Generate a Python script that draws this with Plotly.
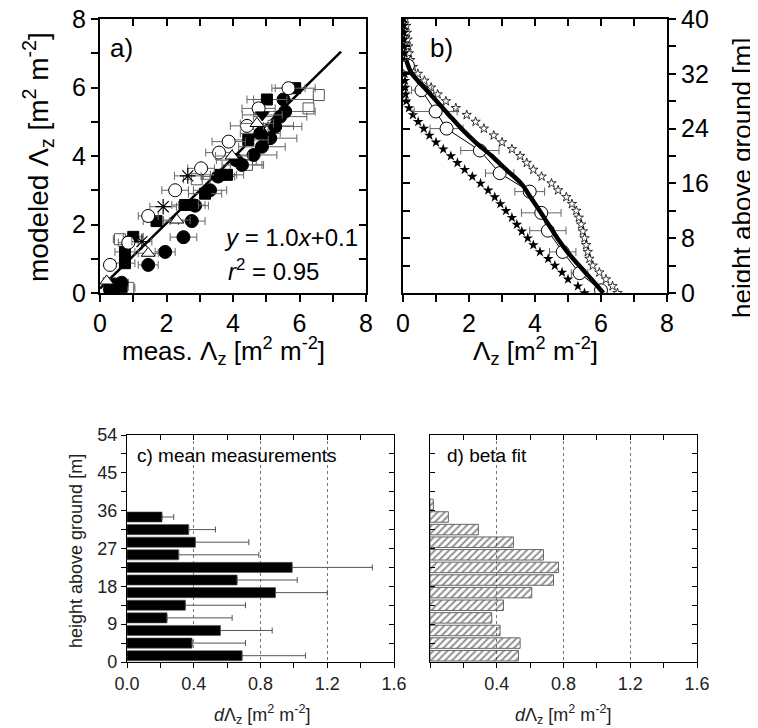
import plotly.graph_objects as go

# page is rendered with an 8px body margin; figure coordinates are page px - 8
OFF = 8
W, H = 750, 720
FONT = "Liberation Sans, Arial, sans-serif"

# ---------------- Panel a data (meas vs modeled) ----------------
fc_x = [0.3, 0.45, 0.65, 1.45, 1.96, 2.51, 2.76, 2.86, 3.31, 3.55, 4.1, 4.27, 4.62, 4.87, 5.12, 4.82, 5.27, 5.42, 5.57, 5.52]
fc_y = [0.1, 0.25, 0.3, 0.82, 1.2, 1.63, 2.1, 2.55, 3.0, 3.4, 3.88, 3.74, 4.03, 4.27, 4.52, 4.66, 4.86, 5.15, 5.3, 5.65]
fc_err = [0.15, 0.2, 0.2, 0.3, 0.3, 0.4, 0.4, 0.4, 0.5, 0.5, 0.6, 0.6, 0.7, 0.7, 0.8, 0.6, 0.8, 0.8, 0.9, 0.9]

oc_x = [0.3, 0.85, 1.45, 2.26, 3.04, 3.58, 3.87, 4.42, 4.77, 5.67]
oc_y = [0.82, 1.47, 2.25, 3.0, 3.64, 4.1, 4.42, 4.88, 5.39, 5.98]
oc_err = [0.1, 0.3, 0.3, 0.4, 0.4, 0.4, 0.5, 0.5, 0.5, 0.5]

fs_x = [0.3, 0.45, 0.65, 0.75, 0.75, 1.0, 1.7, 2.56, 2.76, 3.16, 3.61, 3.82, 4.46, 5.02, 5.87]
fs_y = [0.1, 0.18, 0.18, 0.87, 1.2, 1.64, 2.1, 2.57, 2.57, 2.9, 3.45, 3.45, 4.47, 5.65, 5.98]
fs_err = [0.1, 0.2, 0.2, 0.3, 0.3, 0.3, 0.4, 0.4, 0.4, 0.5, 0.5, 0.5, 0.6, 0.6, 0.6]

os_x = [0.6, 0.85, 2.91, 4.42, 5.22, 6.27, 6.58]
os_y = [1.57, 0.15, 3.32, 3.74, 4.88, 5.39, 5.78]
os_err = [0.2, 0.2, 0.4, 0.5, 0.6, 0.0, 0.0]

ot_x = [0.2, 1.45, 2.31, 3.97, 4.72]
ot_y = [0.35, 1.16, 2.13, 4.0, 4.95]
ot_err = [0.1, 0.3, 0.4, 0.5, 0.5]

ast_x = [1.26, 1.9, 2.64]
ast_y = [1.5, 2.52, 3.42]
ast_err = [0.3, 0.4, 0.4]

fdt_x = [4.88]
fdt_y = [5.2]
fdt_err = [0.6]

fit_a_x = [0.0, 7.25]
fit_a_y = [0.13, 7.05]

# ---------------- Panel b data (profiles) ----------------
star_h = [40, 39, 38, 37, 36, 35, 34, 33, 32, 31, 30, 29, 28, 27, 26, 25, 24, 23, 22, 21,
          20, 19, 18, 17, 16, 15, 14, 13, 12, 11, 10, 9, 8, 7, 6, 5, 4, 3, 2, 1, 0]
open_star_x = [0.08, 0.1, 0.12, 0.14, 0.16, 0.18, 0.22, 0.3, 0.45, 0.65, 0.85, 1.05, 1.3, 1.6, 1.93,
               2.2, 2.45, 2.75, 3.0, 3.3, 3.55, 3.75, 3.95, 4.2, 4.5, 4.7, 4.95, 5.12, 5.25, 5.33,
               5.4, 5.45, 5.5, 5.55, 5.6, 5.65, 5.75, 5.95, 6.15, 6.35, 6.5]
filled_star_x = [0.02, 0.02, 0.03, 0.03, 0.03, 0.04, 0.04, 0.05, 0.05, 0.06, 0.07, 0.08, 0.1, 0.18,
                 0.3, 0.46, 0.63, 0.8, 1.0, 1.22, 1.45, 1.65, 1.87, 2.1, 2.35, 2.58, 2.78, 2.95,
                 3.12, 3.3, 3.45, 3.6, 3.78, 3.95, 4.15, 4.4, 4.6, 4.82, 5.0, 5.3, 5.5]

fit_b_h = [34, 33, 32, 30, 28, 26, 24, 22, 20, 18, 16, 14, 12, 10, 8, 6, 4, 2, 0]
fit_b_x = [0.1, 0.17, 0.27, 0.64, 1.02, 1.39, 1.77, 2.2, 2.69, 3.13, 3.58, 3.86, 4.14,
           4.41, 4.68, 4.98, 5.34, 5.71, 6.07]

meas_h = [33.2, 29.6, 26.5, 24.0, 20.8, 17.5, 14.8, 11.7, 9.1, 6.0, 2.9, 0.4]
meas_x = [0.15, 0.56, 0.99, 1.32, 2.33, 2.93, 3.84, 4.19, 4.39, 4.84, 5.35, 6.0]
meas_err = [0.1, 0.3, 0.65, 0.5, 0.58, 0.43, 0.45, 0.6, 0.55, 0.4, 0.25, 0.15]

# ---------------- Panel c data (mean measurements) ----------------
c_h = [1.5, 4.5, 7.5, 10.5, 13.5, 16.5, 19.5, 22.5, 25.5, 28.5, 31.5, 34.5]
c_val = [0.69, 0.39, 0.56, 0.24, 0.35, 0.89, 0.66, 0.99, 0.31, 0.41, 0.37, 0.21]
c_err = [0.38, 0.32, 0.31, 0.39, 0.36, 0.31, 0.36, 0.48, 0.48, 0.32, 0.16, 0.07]

# ---------------- Panel d data (beta fit) ----------------
d_h = [1.5, 4.5, 7.5, 10.5, 13.5, 16.5, 19.5, 22.5, 25.5, 28.5, 31.5, 34.5, 37.5]
d_val = [0.53, 0.54, 0.42, 0.37, 0.44, 0.61, 0.74, 0.77, 0.68, 0.50, 0.29, 0.11, 0.02]

# ---------------- layout helpers (args are page pixels) ----------------
def dx(a, b):
    return [(a - OFF) / W, (b - OFF) / W]

def dy(top, bottom):
    return [1 - (bottom - OFF) / H, 1 - (top - OFF) / H]

A_X, A_Y = dx(100, 366), dy(19, 293)
B_X, B_Y = dx(403, 667), dy(19, 293)
C_X, C_Y = dx(127, 394), dy(435, 662)
D_X, D_Y = dx(430, 697), dy(435, 662)

BIG = 25
SMALL = 18
ERRC = "#666666"

fig = go.Figure()

def errx(arr, color=ERRC, w=4, th=1):
    return dict(type="data", array=arr, color=color, thickness=th, width=w)

# Panel a traces
fig.add_trace(go.Scatter(x=fit_a_x, y=fit_a_y, mode="lines", line=dict(color="black", width=2.5),
                         xaxis="x", yaxis="y", showlegend=False, hoverinfo="skip"))
common = dict(xaxis="x", yaxis="y", mode="markers", showlegend=False)
fig.add_trace(go.Scatter(x=os_x, y=os_y, error_x=errx(os_err),
                         marker=dict(symbol="square", size=11, color="white", line=dict(color="#555", width=1)), **common))
fig.add_trace(go.Scatter(x=fc_x, y=fc_y, error_x=errx(fc_err),
                         marker=dict(symbol="circle", size=13, color="black", line=dict(color="black", width=1)), **common))
fig.add_trace(go.Scatter(x=fs_x, y=fs_y, error_x=errx(fs_err),
                         marker=dict(symbol="square", size=11, color="black", line=dict(color="black", width=1)), **common))
fig.add_trace(go.Scatter(x=oc_x, y=oc_y, error_x=errx(oc_err),
                         marker=dict(symbol="circle", size=13, color="white", line=dict(color="black", width=1)), **common))
fig.add_trace(go.Scatter(x=ot_x, y=ot_y, error_x=errx(ot_err),
                         marker=dict(symbol="triangle-up", size=12, color="white", line=dict(color="black", width=1)), **common))
fig.add_trace(go.Scatter(x=ast_x, y=ast_y, error_x=errx(ast_err),
                         marker=dict(symbol="asterisk-open", size=13, color="black", line=dict(color="black", width=1.2)), **common))
fig.add_trace(go.Scatter(x=fdt_x, y=fdt_y, error_x=errx(fdt_err),
                         marker=dict(symbol="triangle-down", size=12, color="black", line=dict(color="black", width=1)), **common))

# Panel b traces
fig.add_trace(go.Scatter(x=open_star_x, y=star_h, mode="markers", xaxis="x2", yaxis="y2", showlegend=False,
                         marker=dict(symbol="star-open", size=7, color="black", line=dict(width=0.8))))
fig.add_trace(go.Scatter(x=filled_star_x, y=star_h, mode="markers", xaxis="x2", yaxis="y2", showlegend=False,
                         marker=dict(symbol="star", size=8, color="black", line=dict(width=0))))
fig.add_trace(go.Scatter(x=meas_x, y=meas_h, mode="lines+markers", xaxis="x2", yaxis="y2", showlegend=False,
                         line=dict(color="black", width=1), error_x=errx(meas_err),
                         marker=dict(symbol="circle", size=13, color="white", line=dict(color="black", width=1))))
fig.add_trace(go.Scatter(x=fit_b_x, y=fit_b_h, mode="lines", xaxis="x2", yaxis="y2", showlegend=False,
                         line=dict(color="black", width=4.5, shape="spline")))

# Panel c
fig.add_trace(go.Bar(y=c_h, x=c_val, orientation="h", width=2.4, xaxis="x3", yaxis="y3", showlegend=False,
                     marker=dict(color="black", line=dict(color="#555", width=0.6)),
                     error_x=dict(type="data", symmetric=False, array=c_err, arrayminus=[0] * len(c_err),
                                  color="#555", thickness=1, width=3)))

# Panel d
fig.add_trace(go.Bar(y=d_h, x=d_val, orientation="h", width=2.5, xaxis="x4", yaxis="y4", showlegend=False,
                     marker=dict(color="rgba(255,255,255,0)", line=dict(color="#666", width=1),
                                 pattern=dict(shape="/", fgcolor="#222", bgcolor="rgba(255,255,255,0)",
                                              size=5, solidity=0.4))))

# dummy traces for overlay axes
for xa, ya in [("x5", "y"), ("x", "y5"), ("x6", "y2"), ("x2", "y6"),
               ("x7", "y3"), ("x3", "y7"), ("x8", "y4"), ("x4", "y8")]:
    fig.add_trace(go.Scatter(x=[None], y=[None], xaxis=xa, yaxis=ya, mode="markers",
                             showlegend=False, hoverinfo="skip"))

def ax(**kw):
    base = dict(showgrid=False, zeroline=False, showline=True, linecolor="black",
                tickcolor="black", ticks="outside", automargin=False, ticklabeloverflow="allow")
    base.update(kw)
    return base

bigtick = dict(linewidth=2, tickwidth=2, ticklen=7, tickfont=dict(size=BIG, family=FONT, color="black"))
smalltick = dict(linewidth=1.3, tickwidth=1.3, ticklen=5, tickfont=dict(size=SMALL, family=FONT, color="#222"))

fig.update_layout(
    width=W, height=H, margin=dict(l=0, r=0, t=0, b=0, autoexpand=False),
    paper_bgcolor="white", plot_bgcolor="rgba(0,0,0,0)",
    font=dict(family=FONT, color="black"),
    barmode="overlay",
    # Panel a
    xaxis=ax(domain=A_X, anchor="y", range=[0, 8], dtick=2, tick0=0,
             minor=dict(dtick=1, ticks="outside", ticklen=7, tickwidth=2, tickcolor="black"), **bigtick),
    yaxis=ax(domain=A_Y, anchor="x", range=[0, 8], dtick=2, tick0=0,
             minor=dict(dtick=1, ticks="outside", ticklen=7, tickwidth=2, tickcolor="black"), **bigtick),
    xaxis5=ax(overlaying="x", side="top", anchor="y", range=[0, 8], dtick=1, ticks="inside",
              showticklabels=False, **bigtick),
    yaxis5=ax(overlaying="y", side="right", anchor="x", range=[0, 8], dtick=1, ticks="inside",
              showticklabels=False, **bigtick),
    # Panel b
    xaxis2=ax(domain=B_X, anchor="y2", range=[0, 8], dtick=2, tick0=0,
              minor=dict(dtick=1, ticks="outside", ticklen=7, tickwidth=2, tickcolor="black"), **bigtick),
    yaxis2=ax(domain=B_Y, anchor="x2", side="right", range=[0, 40], dtick=8, tick0=0,
              minor=dict(dtick=4, ticks="outside", ticklen=7, tickwidth=2, tickcolor="black"), **bigtick),
    xaxis6=ax(overlaying="x2", side="top", anchor="y2", range=[0, 8], dtick=1, ticks="inside",
              showticklabels=False, **bigtick),
    yaxis6=ax(overlaying="y2", side="left", anchor="x2", range=[0, 40], dtick=4, ticks="inside",
              showticklabels=False, **bigtick),
    # Panel c
    xaxis3=ax(domain=C_X, anchor="y3", range=[0, 1.6], tickvals=[0, 0.4, 0.8, 1.2, 1.6],
              ticktext=["0.0", "0.4", "0.8", "1.2", "1.6"],
              showgrid=True, gridcolor="#777", griddash="dot", gridwidth=1,
              minor=dict(tickvals=[0.2, 0.6, 1.0, 1.4], ticks="outside", ticklen=5, tickwidth=1.3,
                         tickcolor="black"), **smalltick),
    yaxis3=ax(domain=C_Y, anchor="x3", range=[0, 54], dtick=9, tick0=0,
              minor=dict(dtick=4.5, tick0=0, ticks="outside", ticklen=5, tickwidth=1.3, tickcolor="black"),
              **smalltick),
    xaxis7=ax(overlaying="x3", side="top", anchor="y3", range=[0, 1.6], dtick=0.2, tick0=0, ticks="inside",
              showticklabels=False, **smalltick),
    yaxis7=ax(overlaying="y3", side="right", anchor="x3", range=[0, 54], dtick=4.5, tick0=0, ticks="inside",
              showticklabels=False, **smalltick),
    # Panel d
    xaxis4=ax(domain=D_X, anchor="y4", range=[0, 1.6], tickvals=[0.4, 0.8, 1.2, 1.6],
              ticktext=["0.4", "0.8", "1.2", "1.6"],
              showgrid=True, gridcolor="#777", griddash="dot", gridwidth=1,
              minor=dict(tickvals=[0, 0.2, 0.6, 1.0, 1.4], ticks="outside", ticklen=5, tickwidth=1.3,
                         tickcolor="black"), **smalltick),
    yaxis4=ax(domain=D_Y, anchor="x4", range=[0, 54], dtick=4.5, tick0=0, ticks="inside",
              showticklabels=False, **smalltick),
    xaxis8=ax(overlaying="x4", side="top", anchor="y4", range=[0, 1.6], dtick=0.2, tick0=0, ticks="inside",
              showticklabels=False, **smalltick),
    yaxis8=ax(overlaying="y4", side="right", anchor="x4", range=[0, 54], dtick=4.5, tick0=0, ticks="inside",
              showticklabels=False, **smalltick),
)

def ann(text, px, py, size, xanchor="center", yanchor="middle", angle=0, color="black"):
    fig.add_annotation(text=text, x=(px - OFF) / W, y=1 - (py - OFF) / H, xref="paper", yref="paper",
                       xanchor=xanchor, yanchor=yanchor, showarrow=False, textangle=angle,
                       font=dict(size=size, family=FONT, color=color))

LZ = "\u039b<sub>z</sub> [m<sup>2</sup> m<sup>-2</sup>]"
ann("a)", 108, 48, 26, xanchor="left")
ann("b)", 428, 48, 26, xanchor="left")
ann("<i>y</i> = 1.0<i>x</i>+0.1", 222, 238, 24, xanchor="left")
ann("<i>r</i><sup>2</sup> = 0.95", 226, 270, 24, xanchor="left")
ann("modeled " + LZ, 38, 157, 28, angle=-90)
ann("meas. " + LZ, 223, 351, 26)
ann(LZ, 535, 351, 26)
ann("height above ground [m]", 742, 178, 26, angle=-90)
ann("c) mean measurements", 135, 455, 19, xanchor="left")
ann("d) beta fit", 445, 455, 19, xanchor="left")
ann("height above ground [m]", 76, 551, 18, angle=-90, color="#222")
ann("<i>d</i>" + LZ, 262, 714, 18, color="#222")
ann("<i>d</i>" + LZ, 563, 714, 18, color="#222")

fig.write_html("out.html")
